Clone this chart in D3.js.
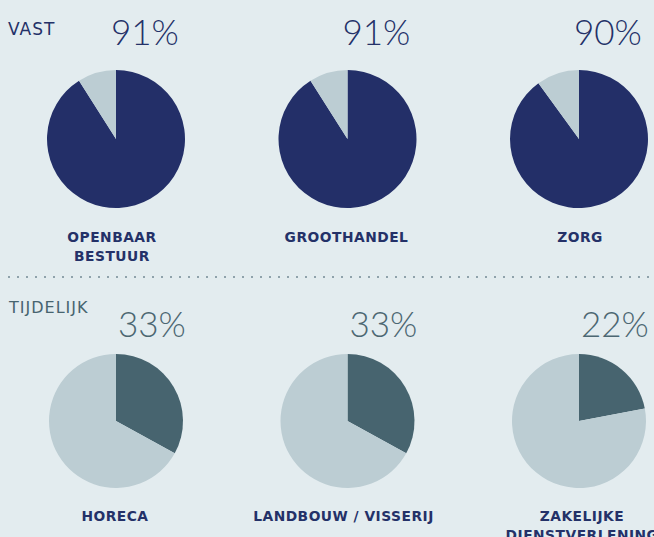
<!DOCTYPE html>
<head>
<meta charset="utf-8">
<style>
body { margin:0; background:#e3ecef; }
.pct { font-family:Lato, "Open Sans", sans-serif; font-weight:300; font-size:35px; }
.cat { font-family:"DejaVu Sans", sans-serif; font-weight:bold; font-size:13.8px; fill:#243168; letter-spacing:0.5px; }
.grp { font-family:"DejaVu Sans", sans-serif; letter-spacing:1px; }
</style>
</head>
<body>
<svg width="654" height="537"></svg>
<script src="https://cdn.jsdelivr.net/npm/d3@7"></script>
<script>
var svg = d3.select("svg");

// data
var vastCats = [["OPENBAAR","BESTUUR"], ["GROOTHANDEL"], ["ZORG"]];
var vastValues = [91, 91, 90];
var tijdCats = [["HORECA"], ["LANDBOUW / VISSERIJ"], ["ZAKELIJKE","DIENSTVERLENING"]];
var tijdValues = [33, 33, 22];

var xPos = d3.scalePoint().domain([0,1,2]).range([116, 579]);
var pie = d3.pie().sort(null);

function drawRow(cats, values, cy, r, mainCol, pctCol, pctY, pctDx, catY, labelX) {
  values.forEach(function(v, i) {
    var cx = xPos(i);
    var g = svg.append("g").attr("transform", "translate(" + cx + "," + cy + ")");
    var arc = d3.arc().innerRadius(0).outerRadius(r);
    g.selectAll("path")
      .data(pie([v, 100 - v]))
      .enter().append("path")
      .attr("d", arc)
      .attr("fill", function(d, j){ return j == 0 ? mainCol : "#bccdd3"; });

    svg.append("text").attr("class", "pct")
      .attr("x", cx + pctDx).attr("y", pctY)
      .attr("fill", pctCol)
      .text(v + "%");

    var t = svg.append("text").attr("class", "cat")
      .attr("text-anchor", "middle")
      .attr("x", cx + labelX[i]).attr("y", catY);
    cats[i].forEach(function(line, k){
      t.append("tspan").attr("x", cx + labelX[i]).attr("dy", k == 0 ? 0 : 19).text(line);
    });
  });
}

drawRow(vastCats, vastValues, 139, 69, "#232f68", "#243168", 45, -5, 242, [-4, -1, 1]);
drawRow(tijdCats, tijdValues, 421, 67, "#47646f", "#4c6772", 337, 2, 521, [-1, -4, 3]);

svg.append("text").attr("class", "grp").attr("x", 8).attr("y", 35).attr("font-size", 17)
  .attr("fill", "#243168").text("VAST");
svg.append("text").attr("class", "grp").attr("x", 9).attr("y", 313).attr("font-size", 16)
  .attr("fill", "#47646f").text("TIJDELIJK");

svg.append("line")
  .attr("x1", 8).attr("x2", 654).attr("y1", 277).attr("y2", 277)
  .attr("stroke", "#8fa2ab").attr("stroke-width", 2)
  .attr("stroke-dasharray", "2,7");
</script>
</body>
